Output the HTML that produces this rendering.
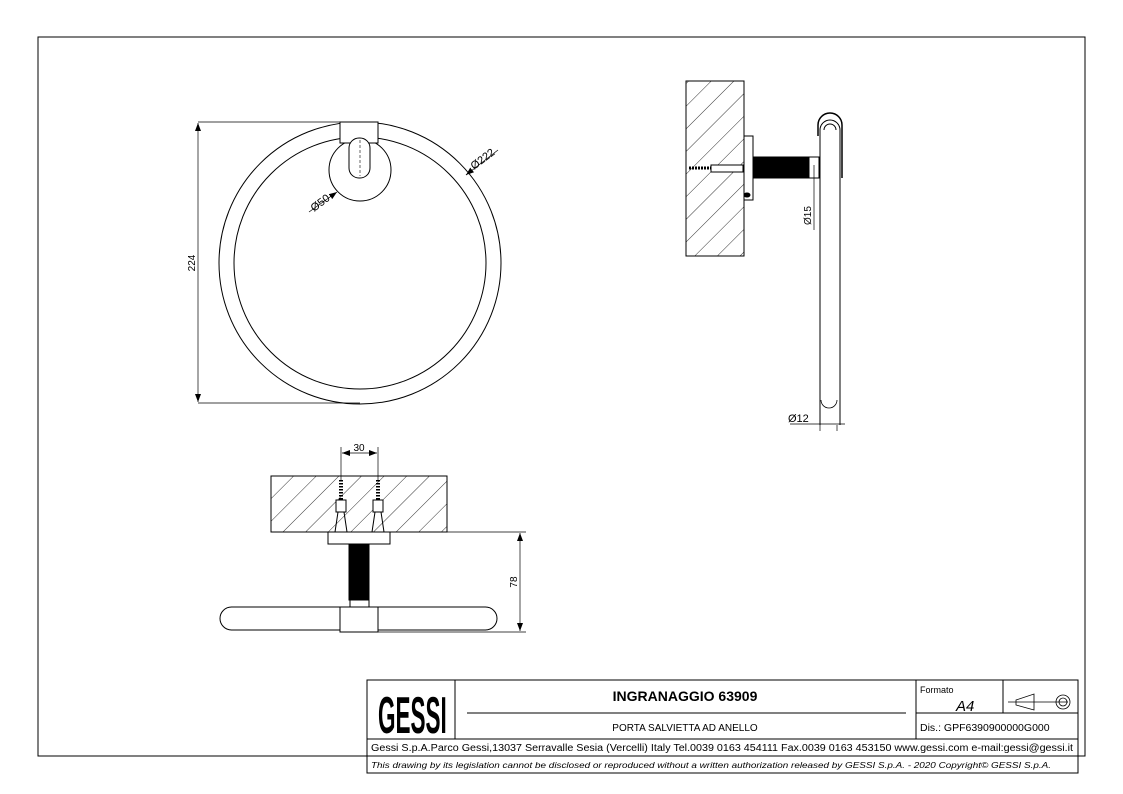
<!DOCTYPE html>
<html><head><meta charset="utf-8"><style>
body{margin:0;background:#fff}
svg{display:block}
text{font-family:"Liberation Sans",sans-serif;fill:#000}
</style></head><body>
<svg width="1123" height="794" viewBox="0 0 1123 794" xmlns="http://www.w3.org/2000/svg">
<defs>
<pattern id="h" patternUnits="userSpaceOnUse" width="16" height="16" patternTransform="rotate(45)">
<line x1="0" y1="0" x2="0" y2="16" stroke="#000" stroke-width="0.8"/>
</pattern>
<marker id="a" markerWidth="8" markerHeight="6" refX="8" refY="3" orient="auto-start-reverse" markerUnits="userSpaceOnUse"><path d="M0,0 L8,3 L0,6z" fill="#000"/></marker>
</defs>
<rect width="1123" height="794" fill="#fff"/>
<path d="M367,756 H38 V37 H1085 V756 H1078" fill="none" stroke="#000" stroke-width="1"/>
<g fill="none" stroke="#000" stroke-width="1">
<circle cx="360" cy="263" r="141"/>
<circle cx="360" cy="263" r="126"/>
<circle cx="360" cy="170" r="31" fill="#fff"/>
<rect x="340" y="122" width="38" height="21" fill="#fff"/>
<rect x="349" y="138" width="21" height="40" rx="10" fill="#fff"/>
<line x1="360" y1="140" x2="360" y2="176" stroke-dasharray="3,2" stroke-width="0.6"/>
<line x1="198" y1="122" x2="340" y2="122" stroke-width="0.7"/>
<line x1="198" y1="403" x2="360" y2="403" stroke-width="0.7"/>
<line x1="198" y1="123" x2="198" y2="402" stroke-width="0.7" marker-start="url(#a)" marker-end="url(#a)"/>
<line x1="309" y1="212" x2="337" y2="192" stroke-width="0.7" marker-end="url(#a)"/>
<line x1="466" y1="175" x2="498" y2="150" stroke-width="0.7"/>
<line x1="466" y1="175" x2="472" y2="170" stroke-width="0.7" marker-start="url(#a)"/>
<rect x="686" y="81" width="58" height="175" fill="url(#h)"/>
<rect x="744" y="136" width="9" height="64" fill="#fff"/>
<rect x="753" y="157" width="56" height="21" fill="#000"/>
<rect x="809" y="157" width="10" height="21" fill="#fff"/>
<path d="M689,168 h22" stroke-width="3" stroke-dasharray="2,1"/>
<path d="M711,165 h32 v7 h-32z" fill="#fff"/>
<ellipse cx="747" cy="195" rx="3" ry="2" fill="#000"/>
<path d="M820,425 V130 a10,10 0 0 1 20,0 V425" fill="#fff"/>
<path d="M818,136 V125 a12,12 0 0 1 24,0 V178" stroke-width="1.5"/>
<path d="M824,130 a6,6 0 0 1 12,0" />
<path d="M821,400 a8,8 0 0 0 16,0" stroke-width="0.8"/>
<line x1="814" y1="165" x2="814" y2="230" stroke-width="0.7"/>
<line x1="790" y1="424" x2="845" y2="424" stroke-width="0.7"/>
<line x1="820" y1="425" x2="820" y2="431" stroke-width="0.7"/>
<line x1="837" y1="425" x2="837" y2="431" stroke-width="0.7"/>
<rect x="271" y="476" width="176" height="56" fill="url(#h)"/>
<rect x="271" y="476" width="176" height="56"/>
<line x1="447" y1="532" x2="526" y2="532" stroke-width="0.7"/>
<line x1="378" y1="632" x2="526" y2="632" stroke-width="0.7"/>
<line x1="520" y1="533" x2="520" y2="631" stroke-width="0.7" marker-start="url(#a)" marker-end="url(#a)"/>
<rect x="328" y="532" width="62" height="12" fill="#fff"/>
<rect x="349" y="544" width="20" height="56" fill="#000"/>
<rect x="350" y="600" width="19" height="7" fill="#fff"/>
<rect x="220" y="607" width="277" height="23" rx="11.5" fill="#fff"/>
<rect x="340" y="607" width="38" height="25" fill="#fff"/>
<line x1="341" y1="447" x2="341" y2="480" stroke-width="0.7"/>
<line x1="378" y1="447" x2="378" y2="480" stroke-width="0.7"/>
<line x1="342" y1="453" x2="377" y2="453" stroke-width="0.7" marker-start="url(#a)" marker-end="url(#a)"/>
<path d="M341,480 v22 M378,480 v22" stroke-width="4" stroke-dasharray="1.5,1.5"/>
<path d="M336,500 h10 v12 h-10z M373,500 h10 v12 h-10z" fill="#fff"/>
<path d="M338,512 l-3,20 M344,512 l3,20 M375,512 l-3,20 M381,512 l3,20"/>
<rect x="367" y="680" width="711" height="93"/>
<line x1="367" y1="739" x2="1078" y2="739"/>
<line x1="367" y1="756" x2="1078" y2="756"/>
<line x1="455" y1="680" x2="455" y2="739"/>
<line x1="916" y1="680" x2="916" y2="739"/>
<line x1="1003" y1="680" x2="1003" y2="713"/>
<line x1="916" y1="713" x2="1078" y2="713"/>
<line x1="467" y1="713" x2="906" y2="713"/>
<path d="M1016,700 l18,-6 v16 l-18,-5z M1008,702 h60" stroke-width="0.8"/>
<circle cx="1063" cy="702" r="7" stroke-width="0.8"/>
<circle cx="1063" cy="702" r="4" stroke-width="0.8"/>
</g>
<text font-size="10" transform="translate(195,263) rotate(-90)" text-anchor="middle">224</text>
<text font-size="11" transform="translate(314,212) rotate(-37)">Ø50</text>
<text font-size="11" transform="translate(474,170) rotate(-37)">Ø222</text>
<text font-size="10" transform="translate(811,225) rotate(-90)">Ø15</text>
<text x="788" y="422" font-size="11">Ø12</text>
<text x="359" y="451" font-size="10" text-anchor="middle">30</text>
<text font-size="10" transform="translate(517,582) rotate(-90)" text-anchor="middle">78</text>
<text x="0" y="0" font-size="36" font-weight="bold" transform="translate(378,733) scale(0.8,1.45)" textLength="86" lengthAdjust="spacingAndGlyphs">GESSI</text>
<text x="685" y="701" font-size="14" font-weight="bold" text-anchor="middle">INGRANAGGIO 63909</text>
<text x="685" y="731" font-size="10" text-anchor="middle">PORTA SALVIETTA AD ANELLO</text>
<text x="920" y="693" font-size="9">Formato</text>
<text x="956" y="711" font-size="15" font-style="italic">A4</text>
<text x="920" y="731" font-size="10.5">Dis.: GPF6390900000G000</text>
<text x="722" y="751" font-size="10" text-anchor="middle" textLength="702" lengthAdjust="spacingAndGlyphs">Gessi S.p.A.Parco Gessi,13037 Serravalle Sesia (Vercelli) Italy Tel.0039 0163 454111 Fax.0039 0163 453150 www.gessi.com e-mail:gessi@gessi.it</text>
<text x="711" y="768" font-size="8.5" font-style="italic" text-anchor="middle" textLength="680" lengthAdjust="spacingAndGlyphs">This drawing by its legislation cannot be disclosed or reproduced without a written authorization released by GESSI S.p.A. - 2020 Copyright© GESSI S.p.A.</text>
</svg>
</body></html>
